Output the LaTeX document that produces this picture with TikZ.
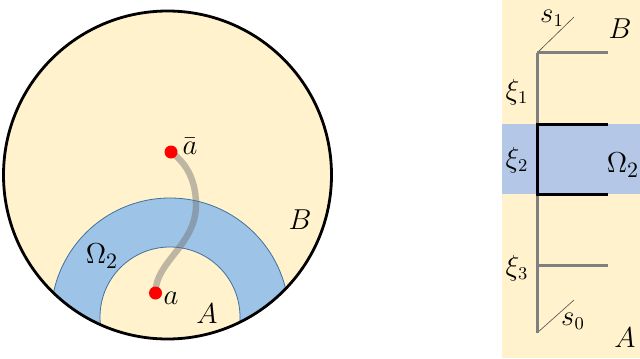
\documentclass[tikz,border=0pt]{standalone}
\usepackage{tikz}
\definecolor{cream}{HTML}{FFF2CC}
\definecolor{bluea}{HTML}{9DC3E6}
\definecolor{blueb}{HTML}{B4C7E7}
\definecolor{blueedge}{HTML}{41719C}
\definecolor{greyline}{HTML}{7F7F7F}
\definecolor{pathgrey}{HTML}{6F6F6F}
\tikzset{
  lbl/.style={inner sep=0pt, font=\fontsize{13.5}{15}\selectfont},
  biglbl/.style={inner sep=0pt, font=\fontsize{15}{17}\selectfont},
  dot/.style={circle, fill=red, inner sep=0pt, minimum size=6.5pt},
  greyseg/.style={draw=greyline, line width=1.5pt},
  blackseg/.style={draw=black, line width=1.5pt},
  thinseg/.style={draw=black!70, line width=0.3pt},
}
\begin{document}
\begin{tikzpicture}[x=0.5pt,y=-0.5pt]
\useasboundingbox (0,0) rectangle (640,358);
% ---------- left panel ----------
\fill[cream] (167.5,175) circle [radius=164];
\begin{scope}
  \clip (167.5,175) circle [radius=164];
  \fill[bluea, even odd rule] (170,317) circle [radius=119] (170,317) circle [radius=70];
  \draw[blueedge, line width=0.4pt] (170,317) circle [radius=119];
  \draw[blueedge, line width=0.4pt] (170,317) circle [radius=70];
\end{scope}
\draw[black, line width=1.4pt] (167.5,175) circle [radius=164];
\coordinate (pa) at (155.5,293);
\coordinate (pabar) at (171,152);
\draw[pathgrey, opacity=0.45, line width=3.2pt]
  (pa) .. controls (155,262) and (196,245) .. (196,205)
  .. controls (196,175) and (182,160) .. (pabar);
\node[dot] (abar) at (pabar) {};
\node[dot] (a) at (pa) {};
\node[lbl] (labar) at (190,146) {$\bar{a}$};
\node[lbl] (la) at (171,298) {$a$};
\node[lbl] (lA) at (207,314) {$A$};
\node[lbl] (lB) at (300,220) {$B$};
\node[biglbl] (lO) at (102,256) {$\Omega_2$};
% ---------- right panel ----------
\fill[cream] (502,0) rectangle (640,358);
\fill[blueb] (502,124) rectangle (640,194);
\coordinate (top) at (537,53);
\coordinate (topR) at (608,53);
\coordinate (b1) at (537,124);
\coordinate (b1R) at (608,124);
\coordinate (b2) at (537,194);
\coordinate (b2R) at (608,194);
\coordinate (g3) at (537,265);
\coordinate (g3R) at (608,265);
\coordinate (bot) at (537,333);
\coordinate (s1e) at (574,17);
\coordinate (s0e) at (574,300);
\draw[thinseg] (top) -- (s1e);
\draw[thinseg] (bot) -- (s0e);
\draw[greyseg] (top) -- (b1);
\draw[greyseg] (b2) -- (bot);
\draw[greyseg] (top) -- (topR);
\draw[greyseg] (g3) -- (g3R);
\draw[blackseg] (b1R) -- (b1) -- (b2) -- (b2R);
\node[lbl] (ls1) at (552,18) {$s_1$};
\node[lbl] (lB2) at (620,29) {$B$};
\node[lbl] (lx1) at (517,92) {$\xi_1$};
\node[lbl] (lx2) at (517,160) {$\xi_2$};
\node[biglbl] (lO2) at (623,165) {$\Omega_2$};
\node[lbl] (lx3) at (517,268) {$\xi_3$};
\node[lbl] (ls0) at (573,321) {$s_0$};
\node[lbl] (lA2) at (625,338) {$A$};
\end{tikzpicture}
\end{document}
